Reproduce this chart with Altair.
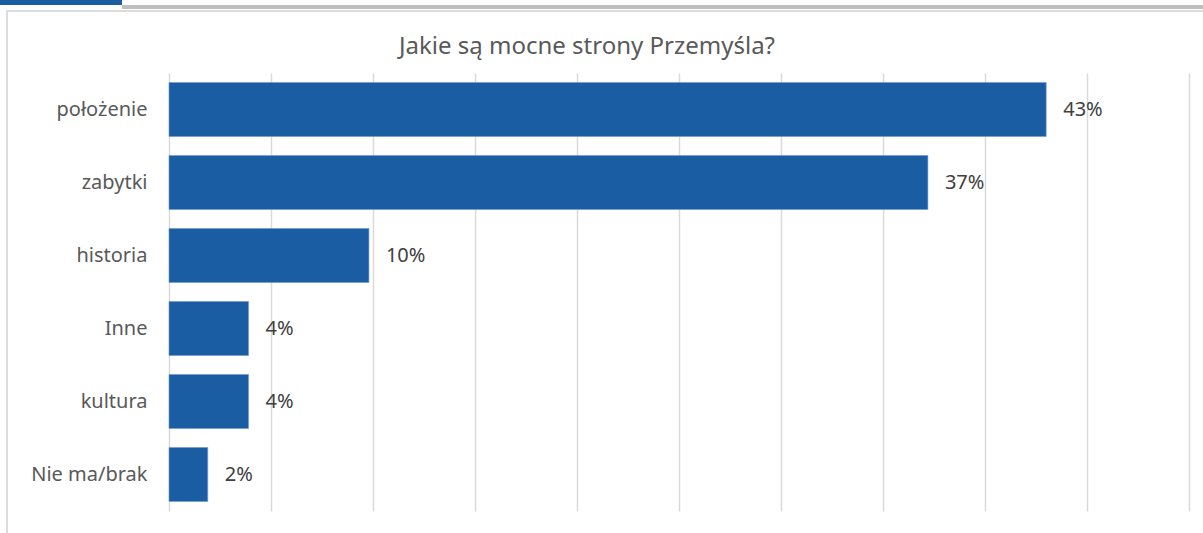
import altair as alt
import pandas as pd

categories = ["położenie", "zabytki", "historia", "Inne", "kultura", "Nie ma/brak"]
values = [43.0, 37.2, 9.8, 3.9, 3.9, 1.9]
labels = ["43%", "37%", "10%", "4%", "4%", "2%"]
title_text = ["Jakie są mocne strony Przemyśla?"]

df = pd.DataFrame({"cat": categories, "val": values, "lab": labels})
one = pd.DataFrame({"a": [0]})
tdf = pd.DataFrame({"t": title_text})

FONT = "Noto Sans"
BLUE = "#1B5DA3"

x = alt.X("val:Q", scale=alt.Scale(domain=[0, 50], nice=False),
          axis=alt.Axis(values=list(range(0, 51, 5)), labels=False, ticks=False,
                        domain=False, grid=True, gridColor="#d9d9d9", gridWidth=1.5,
                        title=None))
y = alt.Y("cat:N", sort=categories,
          scale=alt.Scale(paddingInner=0.26, paddingOuter=0.13),
          axis=alt.Axis(title=None, domain=False, ticks=False, labelPadding=22,
                        labelFontSize=20, labelColor="#595959", labelFont=FONT))

border = alt.Chart(one).mark_rect(filled=False, stroke="#dcdcdc", strokeWidth=2).encode(
    x=alt.value(-162), x2=alt.value(1060), y=alt.value(-62), y2=alt.value(480))
header_blue = alt.Chart(one).mark_rect(fill=BLUE).encode(
    x=alt.value(-169), x2=alt.value(-47), y=alt.value(-73), y2=alt.value(-68))
header_gray = alt.Chart(one).mark_rect(fill="#bfbfbf").encode(
    x=alt.value(-47), x2=alt.value(1040), y=alt.value(-68), y2=alt.value(-64))
title = alt.Chart(tdf).mark_text(align="center", baseline="middle", fontSize=24,
                                 font=FONT, color="#595959").encode(
    x=alt.value(418), y=alt.value(-26), text="t:N")

bars = alt.Chart(df).mark_bar(color=BLUE, stroke="#6f9ad0", strokeWidth=0.6).encode(x=x, y=y)
text = alt.Chart(df).mark_text(align="left", baseline="middle", dx=17, fontSize=20,
                                font=FONT, color="#404040").encode(
    x="val:Q", y=alt.Y("cat:N", sort=categories), text="lab:N")

chart = alt.layer(border, header_blue, header_gray, title, bars, text).properties(
    width=1020, height=438,
    padding={"left": 169, "top": 73, "right": 14, "bottom": 22},
    autosize=alt.AutoSizeParams(type="none"),
).configure_view(stroke="transparent")

chart.save("out.html", embed_options={"renderer": "svg", "actions": False})
